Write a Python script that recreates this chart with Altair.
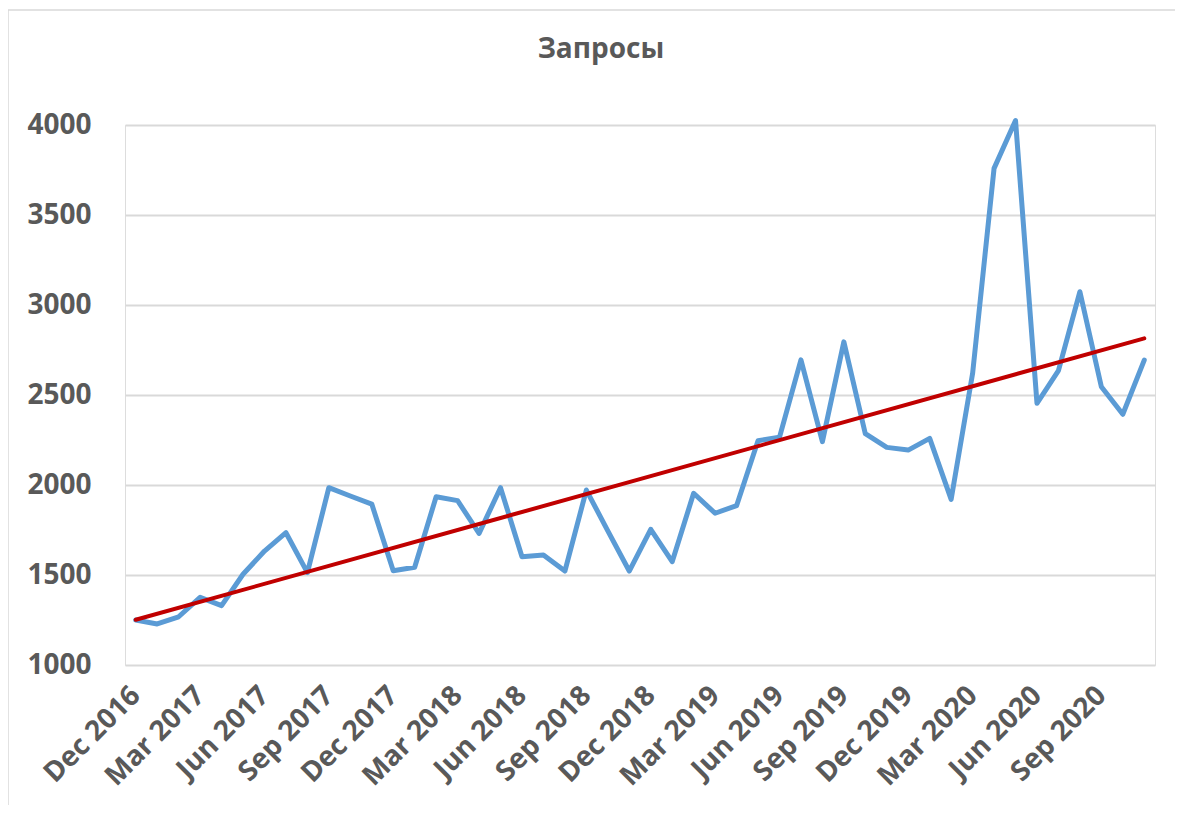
import altair as alt
import pandas as pd

# --- data -------------------------------------------------------------
months = ["Dec 2016",
          "Jan 2017", "Feb 2017", "Mar 2017", "Apr 2017", "May 2017", "Jun 2017",
          "Jul 2017", "Aug 2017", "Sep 2017", "Oct 2017", "Nov 2017", "Dec 2017",
          "Jan 2018", "Feb 2018", "Mar 2018", "Apr 2018", "May 2018", "Jun 2018",
          "Jul 2018", "Aug 2018", "Sep 2018", "Oct 2018", "Nov 2018", "Dec 2018",
          "Jan 2019", "Feb 2019", "Mar 2019", "Apr 2019", "May 2019", "Jun 2019",
          "Jul 2019", "Aug 2019", "Sep 2019", "Oct 2019", "Nov 2019", "Dec 2019",
          "Jan 2020", "Feb 2020", "Mar 2020", "Apr 2020", "May 2020", "Jun 2020",
          "Jul 2020", "Aug 2020", "Sep 2020", "Oct 2020", "Nov 2020"]
requests = [1250, 1228, 1268, 1376, 1330, 1504, 1633, 1735, 1513, 1985,
            1939, 1894, 1524, 1543, 1935, 1913, 1731, 1985, 1602, 1611,
            1522, 1972, 1745, 1522, 1754, 1574, 1954, 1843, 1885, 2246,
            2265, 2695, 2241, 2795, 2285, 2209, 2194, 2259, 1920, 2620,
            3759, 4025, 2454, 2635, 3074, 2546, 2393, 2694]
tick_every = 3
y_ticks = [1000, 1500, 2000, 2500, 3000, 3500, 4000]
title_text = "Запросы"

df = pd.DataFrame({"idx": list(range(len(months))),
                   "month": months,
                   "value": requests})

tick_positions = list(range(0, len(months), tick_every))
label_array = "[" + ",".join("'" + months[i] + "'" for i in tick_positions) + "]"
label_expr = f"{label_array}[datum.value / {tick_every}]"

FONT = "Open Sans"
GREY = "#595959"
FRAME = "#d9d9d9"

x_scale = alt.Scale(domain=[-0.5, len(months) - 0.5], nice=False, zero=False)
y_scale = alt.Scale(domain=[1000, 4000], nice=False, zero=False)

x_axis = alt.Axis(values=tick_positions, labelExpr=label_expr, title=None,
                  labelAngle=-45, labelAlign="right", labelBaseline="middle",
                  labelPadding=26, ticks=False, domain=False, grid=False,
                  labelFont=FONT, labelFontSize=28, labelFontWeight="bold",
                  labelColor=GREY, labelOverlap=False, labelBound=False)
y_axis = alt.Axis(values=y_ticks, format="d", title=None, ticks=False,
                  domain=False, grid=True, gridColor=FRAME, gridWidth=2,
                  labelFont=FONT, labelFontSize=28, labelFontWeight="bold",
                  labelColor=GREY, labelPadding=34)

base = alt.Chart(df)

line = base.mark_line(color="#5B9BD5", strokeWidth=5, clip=False,
                      strokeJoin="round", strokeCap="round").encode(
    x=alt.X("idx:Q", scale=x_scale, axis=x_axis),
    y=alt.Y("value:Q", scale=y_scale, axis=y_axis),
)

trend = base.transform_regression("idx", "value", method="linear").mark_line(
    color="#C00000", strokeWidth=4, strokeCap="round").encode(
    x=alt.X("idx:Q", scale=x_scale),
    y=alt.Y("value:Q", scale=y_scale),
)

# chart-area frame (only its top and left edges fall inside the picture)
frame_src = alt.Chart(pd.DataFrame({"a": [0]}))
frame_top = frame_src.mark_rule(color=FRAME, strokeWidth=1.5, clip=False).encode(
    x=alt.value(-117), x2=alt.value(1100), y=alt.value(-115))
frame_left = frame_src.mark_rule(color=FRAME, strokeWidth=1.5, clip=False).encode(
    x=alt.value(-117), y=alt.value(-115), y2=alt.value(700))

chart = alt.layer(frame_top, frame_left, line, trend).properties(
    width=1030, height=540,
    title=alt.TitleParams(title_text, font=FONT, fontSize=28, fontWeight="bold",
                          color=GREY, anchor="middle", dx=-39, offset=0, dy=55),
    autosize=alt.AutoSizeParams(type="none"),
    padding={"left": 117, "top": 117, "right": 20, "bottom": 140},
).configure_view(strokeWidth=0, stroke="transparent").configure(background="white")

chart.save("out.html", embed_options={"renderer": "svg", "actions": False})
